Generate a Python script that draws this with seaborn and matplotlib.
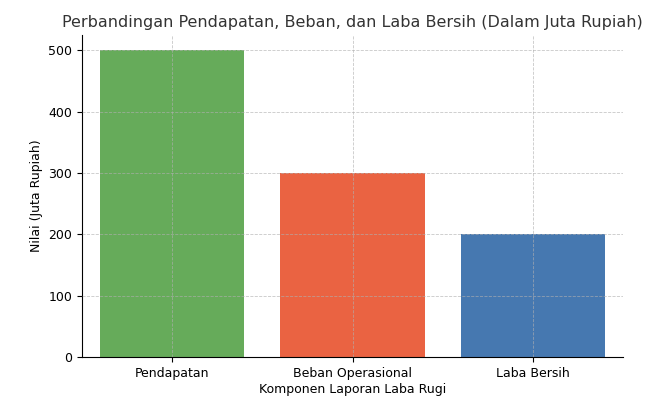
import matplotlib
matplotlib.use("Agg")
import matplotlib.pyplot as plt
import seaborn as sns
import pandas as pd

categories = ["Pendapatan", "Beban Operasional", "Laba Bersih"]
values = [500, 300, 200]
colors = ["#66ab5a", "#ea6342", "#4678b0"]

df = pd.DataFrame({"Komponen": categories, "Nilai": values})

fig = plt.figure(figsize=(6.59, 4.0), dpi=100)
ax = fig.add_axes([82/659, 43/400, 541/659, 322/400])
sns.barplot(data=df, x="Komponen", y="Nilai", hue="Komponen", palette=colors,
            legend=False, width=0.8, saturation=1, ax=ax)
ax.set_axisbelow(False)
ax.grid(True, linestyle="--", color="#b0b0b0", alpha=0.7, linewidth=0.6)
for s in ["top", "right"]:
    ax.spines[s].set_visible(False)
ax.set_ylim(0, 525)
ax.set_title("Perbandingan Pendapatan, Beban, dan Laba Bersih (Dalam Juta Rupiah)", fontsize=11.5, color="#333333")
ax.set_xlabel("Komponen Laporan Laba Rugi", fontsize=9, labelpad=2)
ax.set_ylabel("Nilai (Juta Rupiah)", fontsize=9)
ax.tick_params(labelsize=9)
fig.savefig("out.png", dpi=100)
